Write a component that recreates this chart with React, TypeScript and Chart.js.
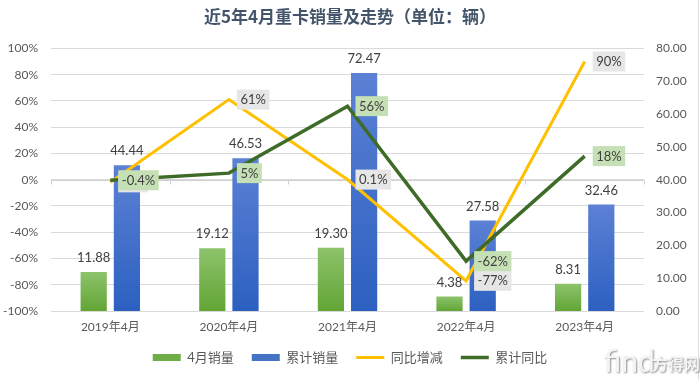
import React, { useEffect, useRef } from 'react';
import { Chart, registerables } from 'chart.js';

Chart.register(...registerables);

const categories = ['2019年4月', '2020年4月', '2021年4月', '2022年4月', '2023年4月'];
const aprilSales = [11.88, 19.12, 19.3, 4.38, 8.31];
const cumulativeSales = [44.44, 46.53, 72.47, 27.58, 32.46];
const yoyChange = [-2, 61, 0.1, -77, 90];
const cumulativeYoy = [-0.4, 5, 56, -62, 18];
const percentTicks = { min: -100, max: 100, step: 20 };
const salesTicks = { min: 0, max: 80, step: 10 };

const FONT = 'Lato, "Noto Sans CJK SC", sans-serif';
const TEXT = '#595959';

function barGradient(top: string, bottom: string, solid: string) {
  return (c: any) => {
    const chart = c.chart;
    if (!chart.chartArea || c.type !== 'data') return solid;
    const ys = chart.scales.y1;
    const t = ys.getPixelForValue(c.raw);
    const b = ys.getPixelForValue(0);
    if (!isFinite(t) || !isFinite(b) || t === b) return solid;
    const g = chart.ctx.createLinearGradient(0, t, 0, b);
    g.addColorStop(0, top);
    g.addColorStop(1, bottom);
    return g;
  };
}

const decorPlugin = {
  id: 'decor',
  beforeDatasetsDraw(chart: any) {
    const ctx = chart.ctx;
    const y = chart.scales.y;
    const y0 = y.getPixelForValue(0);
    ctx.save();
    ctx.strokeStyle = '#d0d0d0';
    ctx.lineWidth = 1;
    const n = categories.length;
    const left = chart.chartArea.left;
    const w = (chart.chartArea.right - left) / n;
    ctx.beginPath();
    for (let i = 0; i <= n; i++) {
      const px = Math.round(left + i * w) + 0.5;
      ctx.moveTo(px, Math.round(y0) + 0.5);
      ctx.lineTo(px, Math.round(y0) + 4.5);
    }
    ctx.moveTo(left, Math.round(y0) + 0.5);
    ctx.lineTo(chart.chartArea.right, Math.round(y0) + 0.5);
    ctx.stroke();
    ctx.restore();
  },
  afterDatasetsDraw(chart: any) {
    const ctx = chart.ctx;
    ctx.save();
    ctx.font = '13px ' + FONT;
    ctx.textBaseline = 'middle';
    ctx.textAlign = 'center';
    ctx.fillStyle = '#404040';
    [0, 1].forEach((di) => {
      const meta = chart.getDatasetMeta(di);
      const vals = chart.data.datasets[di].data as number[];
      meta.data.forEach((el: any, i: number) => {
        ctx.fillText(vals[i].toFixed(2), el.x, el.y - 14);
      });
    });
    const specs: [number, string][] = [
      [2, '#e7e6e6'],
      [3, '#c5e0b4'],
    ];
    specs.forEach(([di, bg]) => {
      const meta = chart.getDatasetMeta(di);
      const vals = chart.data.datasets[di].data as number[];
      meta.data.forEach((el: any, i: number) => {
        const txt = vals[i] + '%';
        const w = ctx.measureText(txt).width + 7;
        const h = 20;
        const bx = el.x + 8;
        ctx.fillStyle = bg;
        ctx.fillRect(bx, el.y - h / 2, w, h);
        ctx.fillStyle = '#404040';
        ctx.textAlign = 'left';
        ctx.fillText(txt, bx + 3.5, el.y + 0.5);
      });
    });
    ctx.restore();
  },
  afterDraw(chart: any) {
    const ctx = chart.ctx;
    ctx.save();
    ctx.strokeStyle = '#e0e0e0';
    ctx.lineWidth = 1;
    ctx.beginPath();
    ctx.moveTo(698.5, 0);
    ctx.lineTo(698.5, 380);
    ctx.stroke();
    ctx.shadowColor = 'rgba(0,0,0,0.45)';
    ctx.shadowBlur = 2;
    ctx.shadowOffsetX = 1;
    ctx.shadowOffsetY = 1;
    ctx.fillStyle = '#f4f4f4';
    ctx.textBaseline = 'alphabetic';
    ctx.textAlign = 'left';
    ctx.font = '30px ' + FONT;
    ctx.fillText('find', 604, 372);
    ctx.font = 'bold 16px "Noto Sans CJK SC", sans-serif';
    ctx.fillText('方得网', 652, 370);
    ctx.restore();
  },
};

export default function App() {
  const ref = useRef<HTMLCanvasElement | null>(null);

  useEffect(() => {
    document.body.style.margin = '0';
    if (!ref.current) return;
    const chart = new Chart(ref.current, {
      type: 'bar',
      data: {
        labels: categories,
        datasets: [
          {
            type: 'bar',
            label: '4月销量',
            data: aprilSales,
            yAxisID: 'y1',
            backgroundColor: barGradient('#8dc36b', '#62a535', '#70ad47'),
            categoryPercentage: 0.56,
            barPercentage: 0.79,
            order: 2,
          },
          {
            type: 'bar',
            label: '累计销量',
            data: cumulativeSales,
            yAxisID: 'y1',
            backgroundColor: barGradient('#5c81d5', '#2c60c0', '#4472c4'),
            categoryPercentage: 0.56,
            barPercentage: 0.79,
            order: 3,
          },
          {
            type: 'line',
            label: '同比增减',
            data: yoyChange,
            yAxisID: 'y',
            borderColor: '#ffc000',
            backgroundColor: '#ffc000',
            borderWidth: 3,
            pointRadius: 0,
            tension: 0,
            order: 1,
          },
          {
            type: 'line',
            label: '累计同比',
            data: cumulativeYoy,
            yAxisID: 'y',
            borderColor: '#3e6b27',
            backgroundColor: '#3e6b27',
            borderWidth: 3.5,
            pointRadius: 0,
            tension: 0,
            order: 0,
          },
        ] as any,
      },
      options: {
        responsive: false,
        animation: false,
        layout: { padding: { left: 0, right: 0, top: 0, bottom: 6 } },
        plugins: {
          title: {
            display: true,
            text: '近5年4月重卡销量及走势（单位：辆）',
            color: '#44546a',
            font: { size: 17, weight: 'bold', family: '"Noto Sans CJK SC", sans-serif' },
            padding: { top: 6, bottom: 22 },
          },
          legend: {
            position: 'bottom',
            labels: {
              color: TEXT,
              font: { size: 13, family: FONT },
              usePointStyle: true,
              pointStyleWidth: 28,
              boxWidth: 28,
              boxHeight: 7,
              padding: 18,
              generateLabels: () => [
                { text: '4月销量', fillStyle: '#70ad47', strokeStyle: '#70ad47', lineWidth: 0, pointStyle: 'rect', datasetIndex: 0, hidden: false, fontColor: TEXT },
                { text: '累计销量', fillStyle: '#4472c4', strokeStyle: '#4472c4', lineWidth: 0, pointStyle: 'rect', datasetIndex: 1, hidden: false, fontColor: TEXT },
                { text: '同比增减', fillStyle: '#ffc000', strokeStyle: '#ffc000', lineWidth: 3, pointStyle: 'line', datasetIndex: 2, hidden: false, fontColor: TEXT },
                { text: '累计同比', fillStyle: '#3e6b27', strokeStyle: '#3e6b27', lineWidth: 3.5, pointStyle: 'line', datasetIndex: 3, hidden: false, fontColor: TEXT },
              ] as any,
            },
          },
          tooltip: { enabled: false },
        },
        scales: {
          x: {
            grid: { display: false, drawTicks: false },
            border: { display: false },
            ticks: { color: TEXT, font: { size: 12, family: FONT }, padding: 9 },
            afterFit: (s: any) => { s.height = 22; },
          },
          y: {
            position: 'left',
            min: percentTicks.min,
            max: percentTicks.max,
            grid: { color: '#d9d9d9', drawTicks: false },
            border: { display: false },
            ticks: {
              stepSize: percentTicks.step,
              color: TEXT,
              font: { size: 12, family: FONT },
              padding: 13,
              callback: (v: any) => v + '%',
            },
            afterFit: (s: any) => { s.width = 51; },
          },
          y1: {
            position: 'right',
            min: salesTicks.min,
            max: salesTicks.max,
            grid: { display: false, drawTicks: false },
            border: { display: false },
            ticks: {
              stepSize: salesTicks.step,
              color: TEXT,
              font: { size: 12, family: FONT },
              padding: 12,
              callback: (v: any) => Number(v).toFixed(2),
            },
            afterFit: (s: any) => { s.width = 56; },
          },
        },
      } as any,
      plugins: [decorPlugin],
    });
    return () => chart.destroy();
  }, []);

  return (
    <div style={{ position: 'fixed', left: 0, top: 0, width: 700, height: 380, background: '#fff' }}>
      <canvas ref={ref} width={700} height={380} style={{ display: 'block' }} />
    </div>
  );
}
